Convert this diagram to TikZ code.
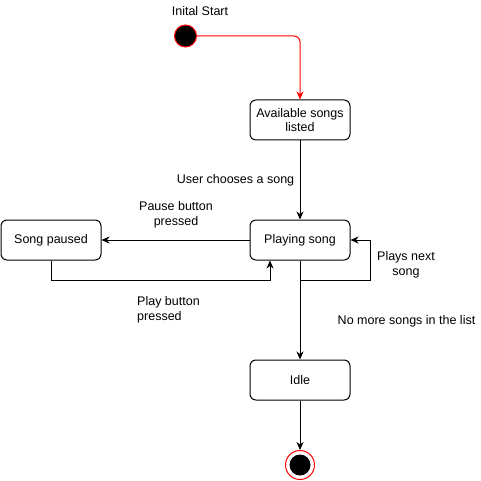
\documentclass[tikz,border=0pt]{standalone}
\usepackage{fontspec}
\setmainfont{Liberation Sans}
\usetikzlibrary{arrows.meta,positioning}
\begin{document}
\begin{tikzpicture}[x=1pt,y=-1pt,
  state/.style={draw,line width=1pt,rounded corners=6pt,minimum width=100pt,minimum height=40pt,inner sep=0pt,align=center,font=\fontsize{12.5}{14.5}\selectfont},
  lbl/.style={align=center,font=\fontsize{12.5}{14.5}\selectfont,inner sep=0pt},
  arr/.style={line width=1pt,-{Stealth[length=8pt,width=7pt,inset=2.5pt]}}]
\useasboundingbox (0,0) rectangle (481,481);
\node[lbl] (tstart) at (200,11) {Inital Start};
\node[circle,draw=red,fill=black,line width=1pt,minimum size=22pt,inner sep=0pt] (init) at (185.5,36) {};
\node[state] (avail) at (300,120) {Available songs\\listed};
\node[state] (play) at (300,240) {Playing song};
\node[state] (paused) at (51,240) {Song paused};
\node[state] (idle) at (300,380) {Idle};
\node[circle,draw=red,fill=white,line width=1pt,minimum size=29pt,inner sep=0pt] (final) at (300,465) {};
\node[circle,fill=black,minimum size=21pt,inner sep=0pt] (finalin) at (300,465) {};
\draw[arr,red,rounded corners=6pt] (init.east) -| (avail.north);
\draw[arr] (avail.south) -- (play.north);
\node[lbl] (l1) at (235.5,180) {User chooses a song};
\draw[arr] (play.west) -- (paused.east);
\node[lbl] (l2) at (176,215) {Pause button\\pressed};
\coordinate (pa) at (51,280);
\coordinate (pb) at (270,280);
\draw[arr] (paused.south) -- (pa) -- (pb) -- (play.south -| pb);
\node[lbl,align=left,anchor=west] (l3) at (137,310) {Play button\\pressed};
\coordinate (la) at (300,280);
\coordinate (lb) at (370,280);
\coordinate (lc) at (370,240);
\draw[arr] (play.south) -- (la) -- (lb) -- (lc) -- (play.east);
\node[lbl] (l4) at (406,265) {Plays next\\song};
\draw[arr] (play.south) -- (idle.north);
\node[lbl] (l5) at (406.5,321) {No more songs in the list};
\draw[arr] (idle.south) -- (final.north);
\end{tikzpicture}
\end{document}
